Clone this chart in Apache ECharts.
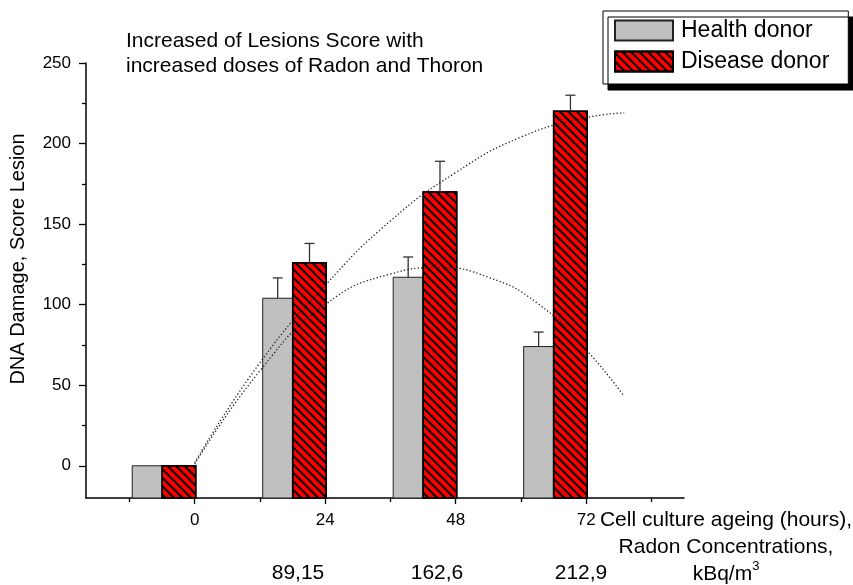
<!DOCTYPE html>
<html><head><meta charset="utf-8">
<script src="https://cdn.jsdelivr.net/npm/echarts@6/dist/echarts.min.js"></script>
<style>html,body{margin:0;padding:0;background:#fff}#c{width:853px;height:585px}</style>
</head><body><div id="c"></div>
<script>
const hours = [0, 24, 48, 72];
const hourTickLabels = ['0', '24', '48', '72'];
const minorHourTicks = [-12, 12, 36, 60, 84];
const healthValues = [0, 104, 117, 74];
const healthErrors = [0, 12.6, 12.6, 9];
const diseaseValues = [0, 126, 170, 220];
const diseaseErrors = [0, 12, 19, 10];
const radonLabels = ['', '89,15', '162,6', '212,9'];
const yTicks = [0, 50, 100, 150, 200, 250];
const yMinorTicks = [25, 75, 125, 175, 225];
const healthFitHours = [0, 12, 24, 36, 45, 54, 63, 72, 79];
const healthFitValues = [1, 59, 100, 119, 123, 117, 101, 72, 43];
const diseaseFitHours = [0, 12, 24, 36, 48, 60, 72, 79];
const diseaseFitValues = [2, 64, 112, 152, 182, 204, 216, 219];

const Y_MIN = -20, Y_MAX = 250, X_MIN = -20, X_MAX = 90;
const FONT = 'Liberation Sans, Arial, Helvetica, sans-serif';
const chart = echarts.init(document.getElementById('c'), null, {renderer: 'canvas'});

const hatch = {symbol: 'rect', symbolSize: 1, dashArrayX: [1, 0], dashArrayY: [1.1, 3.4], rotation: Math.PI / 4, color: '#000'};

function barRender(offsetStart, width, decal) {
  return function (params, api) {
    const x = api.value(0), v = api.value(1);
    const top = api.coord([x, v]);
    const bottom = api.coord([x, Y_MIN]);
    const style = Object.assign({}, api.style());
    if (decal) style.decal = Object.assign({}, decal);
    return {type: 'rect',
      shape: {x: top[0] + offsetStart, y: top[1], width: width, height: bottom[1] - top[1]},
      style: style};
  };
}

function errorRender(offset) {
  return function (params, api) {
    const x = api.value(0), y = api.value(1), e = api.value(2);
    if (!e) return null;
    const base = api.coord([x, y]);
    const top = api.coord([x, y + e]);
    const cx = base[0] + offset;
    const st = {stroke: '#333', lineWidth: 1.3};
    return {type: 'group', children: [
      {type: 'line', shape: {x1: cx, y1: base[1], x2: cx, y2: top[1]}, style: st},
      {type: 'line', shape: {x1: cx - 5, y1: top[1], x2: cx + 5, y2: top[1]}, style: st}
    ]};
  };
}

const radonPos = [0, 298, 437, 581];
const graphics = [
  {type: 'text', x: 18, y: 259, rotation: Math.PI / 2,
   style: {text: 'DNA Damage, Score Lesion', font: '20px ' + FONT, fill: '#000', textAlign: 'center', textVerticalAlign: 'middle'}},
  {type: 'text', x: 726, y: 507,
   style: {text: 'Cell culture ageing (hours),\nRadon Concentrations,\nkBq/m{sup|3}', font: '21px ' + FONT, fill: '#000', textAlign: 'center', lineHeight: 26.7,
     rich: {sup: {fontSize: 13, fontFamily: FONT, verticalAlign: 'top', padding: [0, 0, 10, 0], fill: '#000'}}}}
];
radonLabels.forEach((t, i) => {
  if (!t) return;
  graphics.push({type: 'text', x: radonPos[i], y: 573,
    style: {text: t, font: '21px ' + FONT, fill: '#000', textAlign: 'center', textVerticalAlign: 'middle'}});
});

const option = {
  animation: false,
  backgroundColor: '#fff',
  textStyle: {fontFamily: FONT},
  title: {
    text: 'Increased of Lesions Score with\nincreased doses of Radon and Thoron',
    left: 126, top: 29, padding: 0,
    textStyle: {fontSize: 21, fontWeight: 'normal', color: '#000', lineHeight: 25, fontFamily: FONT}
  },
  legend: {
    data: ['Health donor', 'Disease donor'],
    orient: 'vertical', left: 603, top: 11,
    itemWidth: 58, itemHeight: 20, itemGap: 8,
    padding: [8, 19, 11, 11],
    backgroundColor: '#fff', borderColor: '#000', borderWidth: 1,
    shadowColor: '#000', shadowBlur: 0, shadowOffsetX: 5, shadowOffsetY: 6,
    icon: 'rect',
    textStyle: {fontSize: 23, color: '#000', fontFamily: FONT, padding: [0, 0, 0, 3]}
  },
  grid: {left: 86, top: 63, width: 598, height: 435, containLabel: false},
  xAxis: [
    {type: 'value', min: X_MIN, max: X_MAX, position: 'bottom',
     axisLine: {show: true, onZero: false, lineStyle: {color: '#000', width: 1.5}},
     axisTick: {show: true, customValues: hours, length: 6, lineStyle: {color: '#000', width: 1.3}},
     axisLabel: {show: true, customValues: hours, formatter: v => hourTickLabels[hours.indexOf(v)], fontSize: 17, color: '#000', margin: 14, fontFamily: FONT},
     splitLine: {show: false}},
    {type: 'value', min: X_MIN, max: X_MAX, position: 'bottom',
     axisLine: {show: false, onZero: false},
     axisTick: {show: true, customValues: minorHourTicks, length: 4, lineStyle: {color: '#000', width: 1.3}},
     axisLabel: {show: false}, splitLine: {show: false}}
  ],
  yAxis: [
    {type: 'value', min: Y_MIN, max: Y_MAX,
     axisLine: {show: true, onZero: false, lineStyle: {color: '#000', width: 1.5}},
     axisTick: {show: true, customValues: yTicks, length: 7, lineStyle: {color: '#000', width: 1.3}},
     axisLabel: {show: true, customValues: yTicks, fontSize: 17, color: '#000', margin: 15, fontFamily: FONT},
     splitLine: {show: false}},
    {type: 'value', min: Y_MIN, max: Y_MAX, position: 'left',
     axisLine: {show: false, onZero: false},
     axisTick: {show: true, customValues: yMinorTicks, length: 4, lineStyle: {color: '#000', width: 1.3}},
     axisLabel: {show: false}, splitLine: {show: false}}
  ],
  series: [
    {name: 'Health donor', type: 'custom', xAxisIndex: 0, yAxisIndex: 0, z: 2,
     data: hours.map((h, i) => [h, healthValues[i]]),
     renderItem: barRender(-62.5, 30, null),
     itemStyle: {color: '#c0c0c0', borderColor: '#222', borderWidth: 1}},
    {name: 'Disease donor', type: 'custom', xAxisIndex: 0, yAxisIndex: 0, z: 2,
     data: hours.map((h, i) => [h, diseaseValues[i]]),
     renderItem: barRender(-32.5, 33.5, hatch),
     itemStyle: {color: '#ff0000', borderColor: '#000', borderWidth: 1.5, decal: hatch}},
    {type: 'custom', xAxisIndex: 0, yAxisIndex: 0, z: 3,
     data: hours.map((h, i) => [h, healthValues[i], healthErrors[i]]),
     renderItem: errorRender(-47.5)},
    {type: 'custom', xAxisIndex: 0, yAxisIndex: 0, z: 3,
     data: hours.map((h, i) => [h, diseaseValues[i], diseaseErrors[i]]),
     renderItem: errorRender(-15.7)},
    {type: 'line', xAxisIndex: 0, yAxisIndex: 0, z: 5, smooth: true, symbol: 'none', silent: true,
     data: healthFitHours.map((h, i) => [h, healthFitValues[i]]),
     lineStyle: {color: '#222', width: 1.3, type: [1.3, 2.2]}},
    {type: 'line', xAxisIndex: 0, yAxisIndex: 0, z: 5, smooth: true, symbol: 'none', silent: true,
     data: diseaseFitHours.map((h, i) => [h, diseaseFitValues[i]]),
     lineStyle: {color: '#222', width: 1.3, type: [1.3, 2.2]}}
  ],
  graphic: graphics
};
chart.setOption(option);
</script>
</body></html>
